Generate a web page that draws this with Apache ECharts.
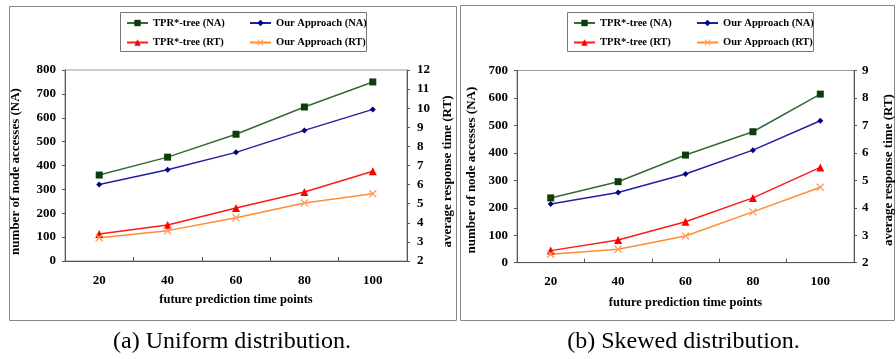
<!DOCTYPE html>
<html>
<head>
<meta charset="utf-8">
<script src="https://cdn.jsdelivr.net/npm/echarts@6/dist/echarts.min.js"></script>
<style>html,body{margin:0;padding:0;background:#fff;}#c{width:896px;height:359px;}</style>
</head>
<body>
<div id="c"></div>
<script>
var categories = ['20', '40', '60', '80', '100'];
var seriesNames = ['TPR*-tree (NA)', 'Our Approach (NA)', 'TPR*-tree (RT)', 'Our Approach (RT)'];
var uniformTprNA = [360, 435, 531, 645, 750];
var uniformOurNA = [320, 382, 455, 547, 635];
var uniformTprRT = [3.41, 3.88, 4.77, 5.61, 6.70];
var uniformOurRT = [3.22, 3.59, 4.27, 5.04, 5.52];
var skewedTprNA = [236, 295, 392, 477, 614];
var skewedOurNA = [214, 256, 323, 410, 517];
var skewedTprRT = [2.44, 2.83, 3.49, 4.36, 5.47];
var skewedOurRT = [2.31, 2.49, 2.97, 3.85, 4.75];
var xTitle = 'future prediction time points';
var yLeftTitle = 'number of node accesses (NA)';
var yRightTitle = 'average response time (RT)';
var captions = ['(a) Uniform distribution.', '(b) Skewed distribution.'];

var FONT = '"Liberation Serif", "Times New Roman", serif';
var xPath = 'path://M0,1.2 L1.2,0 L5,3.8 L8.8,0 L10,1.2 L6.2,5 L10,8.8 L8.8,10 L5,6.2 L1.2,10 L0,8.8 L3.8,5 Z';
var styles = [
  {symbol: 'rect', symbolSize: 7, line: '#336b33', fill: '#0c3d0c'},
  {symbol: 'diamond', symbolSize: 6, line: '#2020a0', fill: '#000080'},
  {symbol: 'triangle', symbolSize: 8, line: '#ff1a1a', fill: '#ff0000'},
  {symbol: xPath, symbolSize: 8, line: '#ff8c30', fill: '#ffa060'}
];

function mkSeries(idx, xi, yi, data) {
  var s = styles[idx];
  return {
    type: 'line', name: seriesNames[idx], xAxisIndex: xi, yAxisIndex: yi, data: data,
    symbol: s.symbol, symbolSize: s.symbolSize, showSymbol: true,
    lineStyle: {color: s.line, width: 1.5},
    itemStyle: {color: s.fill, borderColor: s.fill, borderWidth: 0},
    emphasis: {disabled: true}, animation: false
  };
}

var labelStyle = {color: '#000', fontFamily: FONT, fontWeight: 'bold', fontSize: 13};
var nameStyle = {color: '#000', fontFamily: FONT, fontWeight: 'bold', fontSize: 12.5};
var axisLine = {show: true, lineStyle: {color: '#555', width: 1}};

function yAx(grid, pos, min, max, name, gap, labelMargin, shift) {
  return {
    type: 'value', gridIndex: grid, position: pos, min: min, max: max, interval: (max - min > 20 ? 100 : 1),
    axisLine: axisLine, axisTick: {show: true, inside: false, length: 3, lineStyle: {color: '#555'}},
    splitLine: {show: false},
    axisLabel: Object.assign({margin: labelMargin}, labelStyle),
    name: name, nameLocation: 'middle', nameRotate: 90, nameGap: gap,
    nameTextStyle: {color: '#000', fontFamily: FONT, fontWeight: 'bold', fontSize: 13, padding: [0, shift * 2, 0, 0]}
  };
}
function xAx(grid, gap, margin) {
  return {
    type: 'category', gridIndex: grid, data: categories, boundaryGap: true,
    axisLine: axisLine, axisTick: {show: true, inside: true, length: 4, lineStyle: {color: '#555'}},
    axisLabel: Object.assign({margin: margin}, labelStyle),
    name: xTitle, nameLocation: 'middle', nameGap: gap, nameTextStyle: nameStyle
  };
}

function legendCol(left, top, names) {
  return {
    orient: 'vertical', left: left, top: top, padding: 0, itemGap: 7.5,
    itemWidth: 21, itemHeight: 8, data: names, selectedMode: false,
    textStyle: {color: '#000', fontFamily: FONT, fontWeight: 'bold', fontSize: 10.5, lineHeight: 12}
  };
}

var option = {
  backgroundColor: '#fff',
  animation: false,
  grid: [
    {left: 65, right: 489, top: 70, bottom: 98, show: true, borderColor: '#999', borderWidth: 1, backgroundColor: 'transparent'},
    {left: 517, right: 33, top: 70.5, bottom: 96.3, show: true, borderColor: '#999', borderWidth: 1, backgroundColor: 'transparent'}
  ],
  xAxis: [xAx(0, 32.5, 13), xAx(1, 33.5, 12.5)],
  yAxis: [
    yAx(0, 'left', 0, 800, yLeftTitle, 43, 9, 6),
    yAx(0, 'right', 2, 12, yRightTitle, 34, 10, 6),
    yAx(1, 'left', 0, 700, yLeftTitle, 38.5, 9, 3.5),
    yAx(1, 'right', 2, 9, yRightTitle, 28, 8, 3.5)
  ],
  legend: [
    legendCol(126, 17, [seriesNames[0], seriesNames[2]]),
    legendCol(249, 17, [seriesNames[1], seriesNames[3]]),
    legendCol(573, 17, [seriesNames[0], seriesNames[2]]),
    legendCol(696, 17, [seriesNames[1], seriesNames[3]])
  ],
  series: [
    mkSeries(0, 0, 0, uniformTprNA),
    mkSeries(1, 0, 0, uniformOurNA),
    mkSeries(2, 0, 1, uniformTprRT),
    mkSeries(3, 0, 1, uniformOurRT),
    mkSeries(0, 1, 2, skewedTprNA),
    mkSeries(1, 1, 2, skewedOurNA),
    mkSeries(2, 1, 3, skewedTprRT),
    mkSeries(3, 1, 3, skewedOurRT)
  ],
  graphic: [
    {type: 'rect', shape: {x: 9.5, y: 6.5, width: 447, height: 314}, style: {fill: 'none', stroke: '#888', lineWidth: 1}, silent: true},
    {type: 'rect', shape: {x: 460.5, y: 5.5, width: 434, height: 315}, style: {fill: 'none', stroke: '#888', lineWidth: 1}, silent: true},
    {type: 'rect', shape: {x: 120.5, y: 12.5, width: 246, height: 39}, style: {fill: 'none', stroke: '#777', lineWidth: 1}, silent: true},
    {type: 'rect', shape: {x: 567.5, y: 12.5, width: 246, height: 39}, style: {fill: 'none', stroke: '#777', lineWidth: 1}, silent: true},
    {type: 'text', x: 232, y: 342, style: {text: captions[0], font: '24px ' + FONT, fill: '#000', textAlign: 'center', textVerticalAlign: 'middle'}, silent: true},
    {type: 'text', x: 683.5, y: 342, style: {text: captions[1], font: '24px ' + FONT, fill: '#000', textAlign: 'center', textVerticalAlign: 'middle'}, silent: true}
  ]
};
var chart = echarts.init(document.getElementById('c'), null, {renderer: 'canvas', width: 896, height: 359});
chart.setOption(option);
</script>
</body>
</html>
